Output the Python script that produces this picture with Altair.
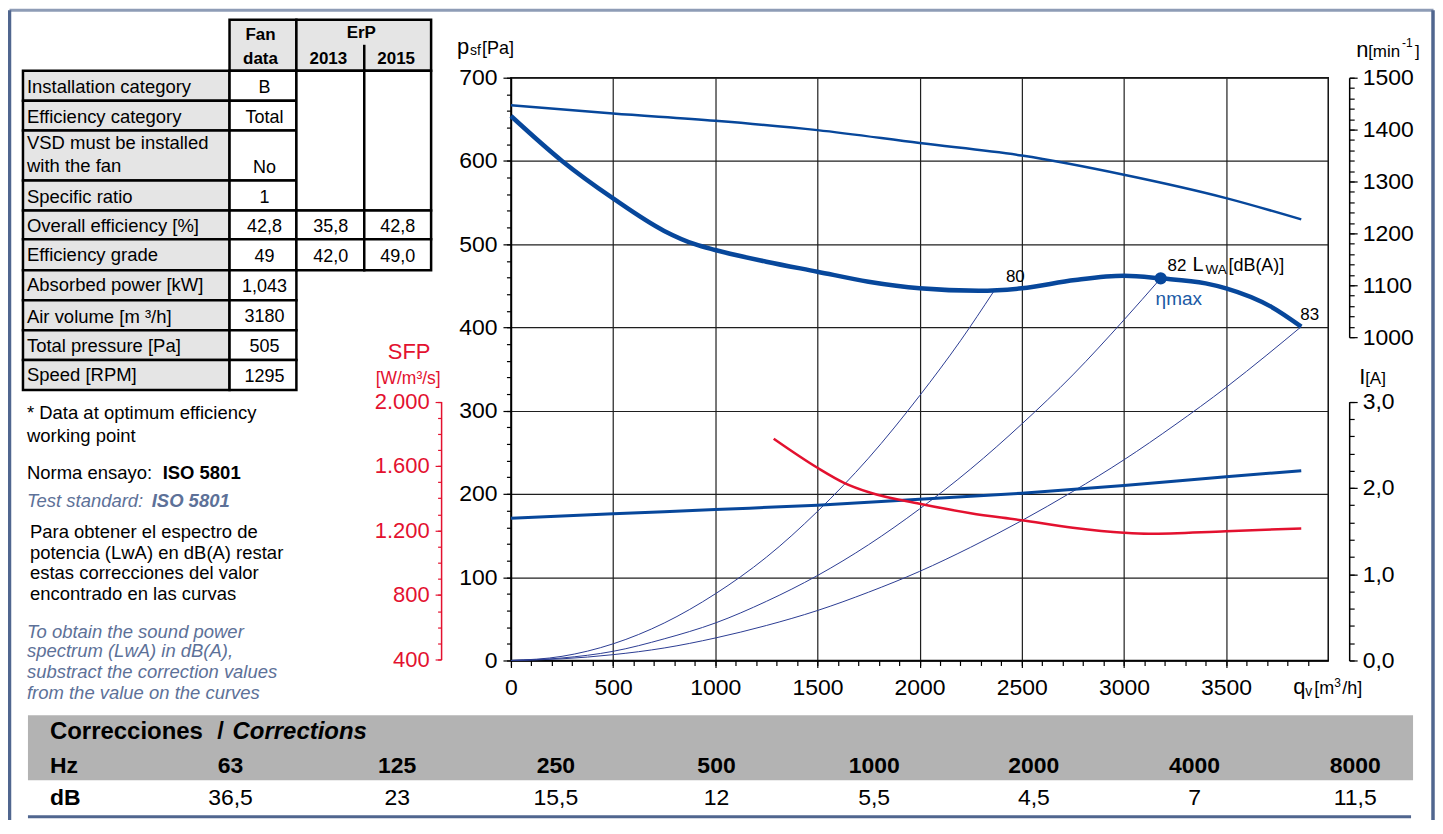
import altair as alt
import pandas as pd

FONT = "Liberation Sans"
BLUE = "#07479b"
THIN = "#2b3c93"
RED = "#e3112f"
GRID = "#1f1f1f"
SLATE = "#5d7198"
FRAME = "#50668f"
CELL_GRAY = "#e5e5e5"
BAND_GRAY = "#b3b3b3"
ETA_BLUE = "#1a5aa5"

# ---------------- curve data ----------------
flow_pressure = [0, 250, 500, 750, 900, 1000, 1250, 1500, 1750, 2000, 2289, 2500, 2762, 3000, 3180, 3400, 3500, 3720, 3868]
static_pressure = [654, 600, 555, 516, 500, 493, 479, 467, 455, 447, 444, 447, 457, 462, 459, 453, 447, 425, 401]

flow_speed = [0, 500, 1000, 1500, 2000, 2500, 3000, 3500, 3868]
speed_rpm = [1447, 1431, 1417, 1399, 1374, 1350, 1313, 1268, 1227]

flow_current = [0, 500, 1000, 1500, 2000, 2500, 3000, 3500, 3868]
current_amp = [1.65, 1.70, 1.75, 1.80, 1.87, 1.94, 2.03, 2.13, 2.20]

flow_sfp = [1286, 1500, 1630, 1760, 2000, 2250, 2500, 2750, 3000, 3120, 3500, 3868]
sfp_value = [1769, 1589, 1496, 1434, 1366, 1307, 1264, 1217, 1186, 1180, 1196, 1213]

flow_sys_80 = [0, 250, 500, 750, 1000, 1250, 1500, 1750, 2000, 2200, 2362]
press_sys_80 = [0, 5, 20, 45, 80, 124, 179, 243, 318, 384, 443]
flow_sys_82 = [0, 250, 500, 750, 1000, 1250, 1500, 1750, 2000, 2250, 2500, 2750, 3000, 3180]
press_sys_82 = [0, 3, 11, 26, 45, 71, 102, 139, 182, 230, 284, 343, 409, 459]
flow_sys_83 = [0, 250, 500, 750, 1000, 1250, 1500, 1750, 2000, 2250, 2500, 2750, 3000, 3250, 3500, 3700, 3868]
press_sys_83 = [0, 2, 7, 15, 27, 42, 60, 82, 107, 136, 168, 203, 241, 283, 328, 367, 401]

eta_flow = [3180]
eta_pressure = [459]

# ---------------- table data ----------------
table_labels = ["Installation category", "Efficiency category", "VSD must be installed",
                "with the fan", "Specific ratio", "Overall efficiency [%]", "Efficiency grade",
                "Absorbed power [kW]", "Air volume [m \u00b3/h]", "Total pressure [Pa]", "Speed [RPM]"]
fan_data = ["B", "Total", "No", "1", "42,8", "49", "1,043", "3180", "505", "1295"]
erp_years = ["2013", "2015"]
erp_2013 = ["35,8", "42,0"]
erp_2015 = ["42,8", "49,0"]

hz_bands = ["63", "125", "250", "500", "1000", "2000", "4000", "8000"]
db_corrections = ["36,5", "23", "15,5", "12", "5,5", "4,5", "7", "11,5"]

# ---------------- layout ----------------
OX, OY = 512, 77          # page position of the plot area origin
W, H = 819, 584
TOTAL_W, TOTAL_H = 1430, 812
PAD = {"left": OX - 8, "top": OY - 8,
       "right": TOTAL_W - (OX - 8) - W, "bottom": TOTAL_H - (OY - 8) - H}

label_y = [86.7, 116.7, 142.3, 165.7, 196.7, 225.7, 255, 285, 316.7, 345.7, 375]
fan_y = [87.7, 117.7, 167.7, 197.7, 226.7, 256.7, 286.7, 316.7, 346.7, 376.7]
row_lines = [70, 100, 130, 180, 210, 239, 270, 300, 330, 360, 390]
band_x = [231, 398, 557, 718, 876, 1036, 1197, 1358]

# ---------------- helpers ----------------
TEXTS = []


def t(px, py, s, size=18, color="black", weight="normal", style="normal",
      align="left", baseline="middle"):
    TEXTS.append(dict(px=px, py=py, text=s, size=size, color=color, weight=weight,
                      style=style, align=align, baseline=baseline))


def text_layers(items):
    df = pd.DataFrame(items)
    out = []
    for (w, s, a, b), g in df.groupby(["weight", "style", "align", "baseline"]):
        g = g.assign(x=g.px - OX, y=g.py - OY)[["x", "y", "text", "size", "color"]]
        out.append(alt.Chart(g).mark_text(font=FONT, fontWeight=w, fontStyle=s,
                                          align=a, baseline=b).encode(
            x=alt.X("x:Q", scale=None, axis=None),
            y=alt.Y("y:Q", scale=None, axis=None),
            text="text:N",
            size=alt.Size("size:Q", scale=None, legend=None),
            color=alt.Color("color:N", scale=None, legend=None)))
    return out


def rect_layer(rows, fill, stroke="black", sw=2.5):
    df = pd.DataFrame(rows, columns=["x1", "x2", "y1", "y2"])
    df["x1"] -= OX
    df["x2"] -= OX
    df["y1"] -= OY
    df["y2"] -= OY
    mk = dict(fill=fill)
    if stroke:
        mk.update(stroke=stroke, strokeWidth=sw)
    return alt.Chart(df).mark_rect(**mk).encode(
        x=alt.X("x1:Q", scale=None, axis=None), x2="x2:Q",
        y=alt.Y("y1:Q", scale=None, axis=None), y2="y2:Q")


def rule_layer(rows, color, sw):
    df = pd.DataFrame(rows, columns=["x1", "y1", "x2", "y2"])
    df["x1"] -= OX
    df["x2"] -= OX
    df["y1"] -= OY
    df["y2"] -= OY
    return alt.Chart(df).mark_rule(color=color, strokeWidth=sw).encode(
        x=alt.X("x1:Q", scale=None, axis=None), x2="x2:Q",
        y=alt.Y("y1:Q", scale=None, axis=None), y2="y2:Q")


# ---------------- decorations: frame, tables ----------------
deco = []
deco.append(rule_layer([(9.5, 9.5, 1436.5, 9.5)], "#8e9cb6", 3))
deco.append(rule_layer([(9.5, 9.5, 9.5, 840), (1436, 9.5, 1436, 840)], FRAME, 3.5))

# bottom corrections band
deco.append(rect_layer([(28, 1416, 716, 781)], BAND_GRAY, stroke=None))
deco.append(rule_layer([(28, 817.5, 1414, 817.5)], FRAME, 3))

# left data table
gray_cells = [(230, 297, 19, 70), (297, 432, 19, 70)]
for i in range(len(row_lines) - 1):
    gray_cells.append((23, 230, row_lines[i], row_lines[i + 1]))
deco.append(rect_layer(gray_cells, CELL_GRAY))
white_cells = []
for i in range(len(row_lines) - 1):
    white_cells.append((230, 297, row_lines[i], row_lines[i + 1]))
white_cells += [(297, 365, 70, 210), (365, 432, 70, 210),
                (297, 365, 210, 239), (365, 432, 210, 239),
                (297, 365, 239, 270), (365, 432, 239, 270)]
deco.append(rect_layer(white_cells, "white"))
deco.append(rule_layer([(365, 44, 365, 70)], "black", 2.5))

# ---------------- texts ----------------
t(261, 34, "Fan", 17, weight="bold", align="center")
t(261, 58, "data", 17, weight="bold", align="center")
t(362, 32, "ErP", 17, weight="bold", align="center")
t(329, 58, erp_years[0], 17, weight="bold", align="center")
t(397, 58, erp_years[1], 17, weight="bold", align="center")
for lab, yy in zip(table_labels, label_y):
    t(27, yy, lab, 18.5)
for v, yy in zip(fan_data, fan_y):
    t(265, yy, v, 18, align="center")
for v, yy in zip(erp_2013, [226.7, 256.7]):
    t(331.5, yy, v, 18, align="center")
for v, yy in zip(erp_2015, [226.7, 256.7]):
    t(398.5, yy, v, 18, align="center")

t(27, 413, "* Data at optimum efficiency", 18.5)
t(27, 436, "working point", 18.5)
t(27, 473, "Norma ensayo:", 18.5)
t(163, 473, "ISO 5801", 18.5, weight="bold")
t(27, 501, "Test standard:", 18.5, color=SLATE, style="italic")
t(152, 501, "ISO 5801", 18.5, color=SLATE, style="italic", weight="bold")
for i, line in enumerate(["Para obtener el espectro de", "potencia (LwA) en dB(A) restar",
                          "estas correcciones del valor", "encontrado en las curvas"]):
    t(30, [532, 553, 573, 594][i], line, 18.5)
for i, line in enumerate(["To obtain the sound power", "spectrum (LwA) in dB(A),",
                          "substract the correction values", "from the value on the curves"]):
    t(27, [632, 652, 673, 694][i], line, 18.5, color=SLATE, style="italic")

# SFP title
t(410, 352, "SFP", 22, color=RED, align="center")
t(409, 379, "[W/m\u00b3/s]", 17.5, color=RED, align="center")

# axis titles
t(458, 53, "p", 22, baseline="alphabetic")
t(471, 54.5, "sf", 14, baseline="alphabetic")
t(483, 53, "[Pa]", 18, baseline="alphabetic")
t(1359, 56, "n", 22, baseline="alphabetic")
t(1371, 56, "[min", 17, baseline="alphabetic")
t(1405, 46, "-1", 12, baseline="alphabetic")
t(1418, 56, "]", 17, baseline="alphabetic")
t(1362, 384, "I", 22, baseline="alphabetic")
t(1368, 384, "[A]", 17, baseline="alphabetic")
t(1296, 695, "q", 22, baseline="alphabetic")
t(1308, 697, "v", 14, baseline="alphabetic")
t(1317, 695, "[m", 18, baseline="alphabetic")
t(1337, 688, "3", 12, baseline="alphabetic")
t(1345, 695, "/h]", 18, baseline="alphabetic")

# curve labels
t(1008, 281.5, "80", 17, baseline="alphabetic")
t(1170, 270.5, "82", 17, baseline="alphabetic")
t(1195, 270.5, "L", 20, baseline="alphabetic")
t(1208, 273.5, "WA", 13.5, baseline="alphabetic")
t(1231, 270.5, "[dB(A)]", 18, baseline="alphabetic")
t(1158, 305, "\u03b7max", 19, color=ETA_BLUE, baseline="alphabetic")
t(1303, 320, "83", 17, baseline="alphabetic")

# corrections table
t(50, 733, "Correcciones", 24, weight="bold")
t(221, 733, "/", 24, weight="bold", align="center")
t(233, 733, "Corrections", 24, weight="bold", style="italic")
t(50, 767, "Hz", 23, weight="bold")
t(50, 799, "dB", 23, weight="bold")
for xx, hz, db in zip(band_x, hz_bands, db_corrections):
    t(xx, 767, hz, 23, weight="bold", align="center")
    t(xx, 799, db, 23, align="center")

# ---------------- plot layers ----------------
XS = alt.Scale(domain=[0, 4000], nice=False, zero=False)
PS = alt.Scale(domain=[0, 700], nice=False, zero=False)
NS = alt.Scale(domain=[1000, 1500], range=[260, 0], nice=False, zero=False)
IS = alt.Scale(domain=[0, 3], range=[584, 324.7], nice=False, zero=False)
SS = alt.Scale(domain=[400, 2000], range=[583, 324.5], nice=False, zero=False)

common = dict(labelFont=FONT, labelColor="black", labelFontSize=23, title=None,
              tickColor="black", domainColor="black", labelOverlap=False, labelFlush=False)


def minor_axis(orient, values, size, color="black", offset=0):
    return alt.Axis(orient=orient, values=values, labels=False, domain=False, grid=False,
                    tickSize=size, tickColor=color, tickWidth=1.2, title=None, offset=offset)


df_p = pd.DataFrame({"q": flow_pressure, "v": static_pressure})
df_n = pd.DataFrame({"q": flow_speed, "v": speed_rpm})
df_i = pd.DataFrame({"q": flow_current, "v": current_amp})
df_s = pd.DataFrame({"q": flow_sfp, "v": sfp_value})
df_80 = pd.DataFrame({"q": flow_sys_80, "v": press_sys_80})
df_82 = pd.DataFrame({"q": flow_sys_82, "v": press_sys_82})
df_83 = pd.DataFrame({"q": flow_sys_83, "v": press_sys_83})
df_eta = pd.DataFrame({"q": eta_flow, "v": eta_pressure})

x_none = alt.X("q:Q", scale=XS, axis=None)

main_axes = alt.Chart(df_p).mark_line(strokeOpacity=0).encode(
    x=alt.X("q:Q", scale=XS, axis=alt.Axis(
        orient="bottom", values=list(range(0, 3501, 500)), format="d", grid=True,
        gridColor=GRID, gridWidth=1.2, tickSize=7, tickWidth=1.2, domainWidth=1.5,
        labelPadding=9, **common)),
    y=alt.Y("v:Q", scale=PS, axis=alt.Axis(
        orient="left", values=list(range(0, 701, 100)), format="d", grid=True,
        gridColor=GRID, gridWidth=1.2, tickSize=8, tickWidth=1.2, domainWidth=1.5,
        labelPadding=6, **common)))

minor_axes = alt.Chart(df_p).mark_line(strokeOpacity=0).encode(
    x=alt.X("q:Q", scale=XS, axis=minor_axis("bottom", list(range(0, 4000, 100)), 5)),
    y=alt.Y("v:Q", scale=PS, axis=minor_axis("left", list(range(0, 701, 20)), 4.5)))


def sys_layer(df):
    return alt.Chart(df).mark_line(color=THIN, strokeWidth=1, interpolate="monotone").encode(
        x=x_none, y=alt.Y("v:Q", scale=PS, axis=None))


current_line = alt.Chart(df_i).mark_line(color=BLUE, strokeWidth=3, interpolate="monotone").encode(
    x=x_none,
    y=alt.Y("v:Q", scale=IS, axis=alt.Axis(
        orient="right", offset=21, values=[0, 1, 2, 3], tickSize=8, tickWidth=1.2,
        domainWidth=1.5, labelPadding=5,
        labelExpr="replace(format(datum.value, '.1f'), '.', ',')", **common)))
current_minor = alt.Chart(df_i).mark_line(strokeOpacity=0).encode(
    x=x_none,
    y=alt.Y("v:Q", scale=IS, axis=minor_axis("right", [round(k * 0.2, 1) for k in range(16)], 5, offset=21)))

speed_line = alt.Chart(df_n).mark_line(color=BLUE, strokeWidth=2.5, interpolate="monotone").encode(
    x=x_none,
    y=alt.Y("v:Q", scale=NS, axis=alt.Axis(
        orient="right", offset=21, values=list(range(1000, 1501, 100)), format="d",
        tickSize=8, tickWidth=1.2, domainWidth=1.5, labelPadding=5, **common)))
speed_minor = alt.Chart(df_n).mark_line(strokeOpacity=0).encode(
    x=x_none,
    y=alt.Y("v:Q", scale=NS, axis=minor_axis("right", list(range(1000, 1501, 20)), 5, offset=21)))

sfp_common = dict(common)
sfp_common.update(labelColor=RED, tickColor=RED, domainColor=RED, labelFontSize=22)
sfp_line = alt.Chart(df_s).mark_line(color=RED, strokeWidth=2.5, interpolate="monotone").encode(
    x=x_none,
    y=alt.Y("v:Q", scale=SS, axis=alt.Axis(
        orient="left", offset=70, values=list(range(400, 2001, 400)), tickSize=6,
        tickWidth=1.2, domainWidth=1.5, labelPadding=6,
        labelExpr="replace(format(datum.value, ','), ',', '.')", **sfp_common)))
sfp_minor = alt.Chart(df_s).mark_line(strokeOpacity=0).encode(
    x=x_none,
    y=alt.Y("v:Q", scale=SS, axis=minor_axis("left", list(range(400, 2001, 100)), 3.5, color=RED, offset=70)))

pressure_line = alt.Chart(df_p).mark_line(color=BLUE, strokeWidth=4.5, interpolate="monotone").encode(
    x=x_none, y=alt.Y("v:Q", scale=PS, axis=None))

eta_dot = alt.Chart(df_eta).mark_point(filled=True, size=150, color=BLUE, opacity=1).encode(
    x=x_none, y=alt.Y("v:Q", scale=PS, axis=None))

layers = deco + [main_axes, minor_axes,
                 sys_layer(df_80), sys_layer(df_82), sys_layer(df_83),
                 current_line, current_minor, sfp_line, sfp_minor,
                 speed_line, speed_minor, pressure_line, eta_dot] + text_layers(TEXTS)

chart = alt.layer(*layers).resolve_scale(y="independent").resolve_axis(
    x="independent", y="independent"
).properties(
    width=W, height=H, padding=PAD, autosize=alt.AutoSizeParams(type="none"),
    background="white",
).configure(font=FONT).configure_view(stroke="#111111", strokeWidth=1.5)

chart.save("out.html", embed_options={"renderer": "svg", "actions": False})
